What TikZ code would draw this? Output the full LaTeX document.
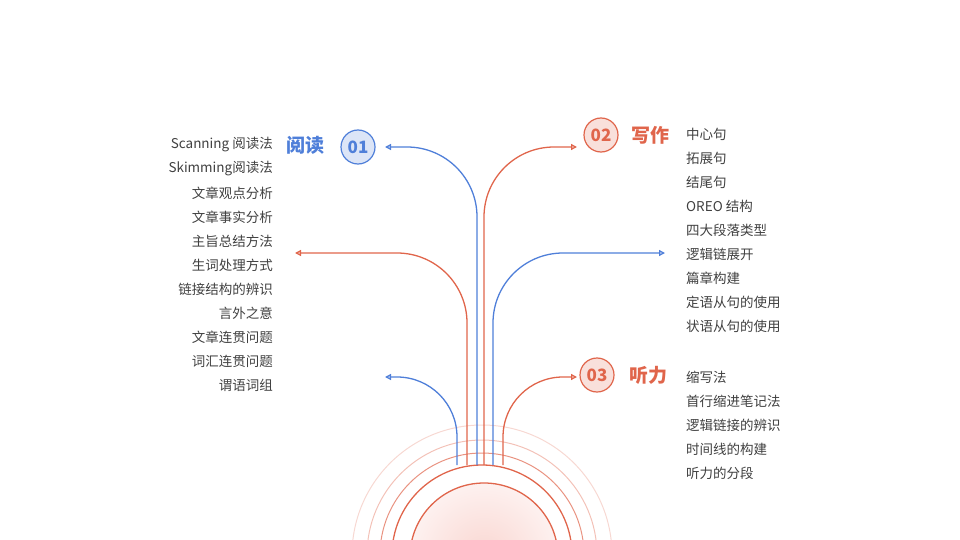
\documentclass[tikz,border=0pt]{standalone}
\usepackage{fontspec}
\setmainfont{Noto Sans CJK SC}
\usetikzlibrary{arrows.meta}
\definecolor{bl}{HTML}{4F7FD9}
\definecolor{rd}{HTML}{E0654B}
\definecolor{pk}{HTML}{FCE3E0}
\begin{document}
\begin{tikzpicture}[x=1pt,y=-1pt,
  ln/.style={line width=1.3pt,-{Stealth[length=6pt,width=6pt,inset=0pt, open]},rounded corners=40pt},
  num/.style={circle,line width=1.2pt,minimum size=34pt,inner sep=0pt,font=\fontsize{17}{17}\selectfont\bfseries},
  ttl/.style={font=\fontsize{19}{19}\selectfont\bfseries},
  it/.style={font=\fontsize{13.5}{14}\selectfont,text=black!75,inner sep=0pt}]
\useasboundingbox (0,0) rectangle (960,540);
\begin{scope}
\clip (0,0) rectangle (960,540);
\draw[rd!25,line width=1pt] (482,555) circle (130);
\draw[rd!40,line width=1pt] (482,555) circle (115);
\draw[rd!70,line width=1pt] (482,555) circle (102);
\draw[rd,line width=1.3pt] (482,555) circle (90);
\shade[inner color=pk!90!rd,outer color=pk!50] (484,557) circle (74);
\draw[rd,line width=1.3pt] (484,557) circle (74);
\end{scope}
\coordinate (b1) at (457,465); \coordinate (b2) at (467,465); \coordinate (b3) at (477,465);
\coordinate (b4) at (484,465); \coordinate (b5) at (493,465); \coordinate (b6) at (503,465);
\coordinate (e1) at (385,377); \coordinate (e2) at (295,253); \coordinate (e3) at (385,147);
\coordinate (e4) at (577,147); \coordinate (e5) at (665,253); \coordinate (e6) at (577,377);
\draw[ln,bl,rounded corners=60pt] (b1) -- (457,377) -- (e1);
\draw[ln,rd,rounded corners=70pt] (b2) -- (467,253) -- (e2);
\draw[ln,bl,rounded corners=70pt] (b3) -- (477,147) -- (e3);
\draw[ln,rd,rounded corners=70pt] (b4) -- (484,147) -- (e4);
\draw[ln,bl,rounded corners=70pt] (b5) -- (493,253) -- (e5);
\draw[ln,rd,rounded corners=60pt] (b6) -- (503,377) -- (e6);
\node[num,draw=bl,fill=bl!20,text=bl] (n1) at (358,147) {01};
\node[ttl,text=bl] (t1) at (305,145) {阅读};
\node[num,draw=rd,fill=rd!20,text=rd] (n2) at (601,135) {02};
\node[ttl,text=rd] (t2) at (650,135) {写作};
\node[num,draw=rd,fill=rd!20,text=rd] (n3) at (597,375) {03};
\node[ttl,text=rd] (t3) at (648,375) {听力};
\foreach \t [count=\i] in {Scanning 阅读法,Skimming阅读法,文章观点分析,文章事实分析,主旨总结方法,生词处理方式,链接结构的辨识,言外之意,文章连贯问题,词汇连贯问题,谓语词组}
  \node[it,anchor=east] (l\i) at (273,145+24*\i-24) {\t};
\foreach \t [count=\i] in {中心句,拓展句,结尾句,OREO 结构,四大段落类型,逻辑链展开,篇章构建,定语从句的使用,状语从句的使用}
  \node[it,anchor=west] (r\i) at (686,134+24*\i-24) {\t};
\foreach \t [count=\i] in {缩写法,首行缩进笔记法,逻辑链接的辨识,时间线的构建,听力的分段}
  \node[it,anchor=west] (s\i) at (686,377+24*\i-24) {\t};
\end{tikzpicture}
\end{document}
